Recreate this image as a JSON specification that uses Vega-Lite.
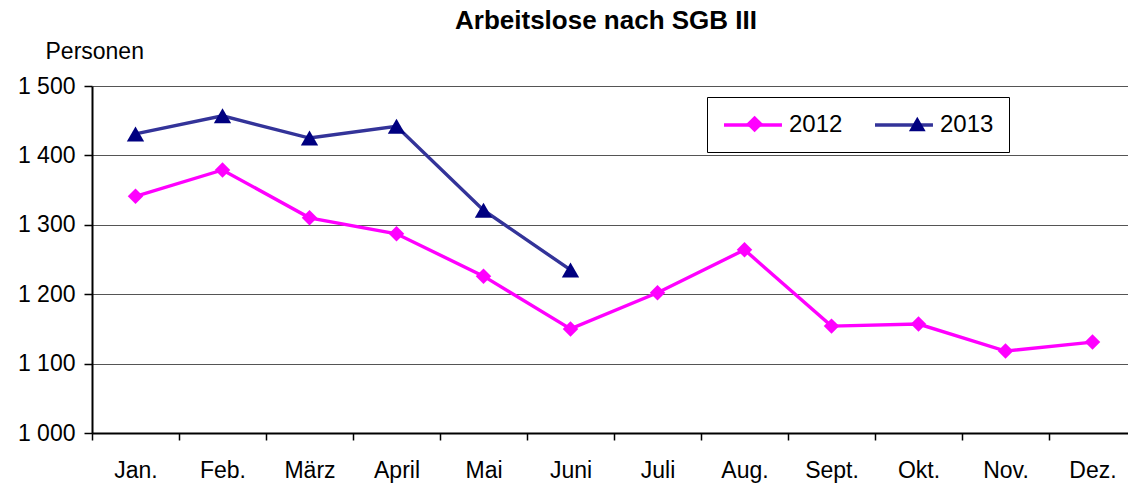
{
  "$schema": "https://vega.github.io/schema/vega-lite/v6.json",
  "width": 1036,
  "height": 347,
  "autosize": {"type": "none"},
  "padding": {"left": 92, "top": 86, "right": 0, "bottom": 50},
  "background": "white",
  "title": {
    "text": "Arbeitslose nach SGB III",
    "font": "Liberation Sans",
    "fontSize": 26,
    "fontWeight": "bold",
    "color": "black",
    "anchor": "middle",
    "offset": 6,
    "dx": -4
  },
  "config": {
    "view": {"stroke": null},
    "font": "Liberation Sans",
    "axis": {"labelFont": "Liberation Sans", "titleFont": "Liberation Sans", "labelColor": "black", "titleColor": "black"}
  },
  "data": {
    "values": [
      {"monat": "Jan.", "jahr": "2012", "wert": 1341},
      {"monat": "Feb.", "jahr": "2012", "wert": 1379},
      {"monat": "März", "jahr": "2012", "wert": 1310},
      {"monat": "April", "jahr": "2012", "wert": 1287},
      {"monat": "Mai", "jahr": "2012", "wert": 1226},
      {"monat": "Juni", "jahr": "2012", "wert": 1150},
      {"monat": "Juli", "jahr": "2012", "wert": 1202},
      {"monat": "Aug.", "jahr": "2012", "wert": 1264},
      {"monat": "Sept.", "jahr": "2012", "wert": 1154},
      {"monat": "Okt.", "jahr": "2012", "wert": 1157},
      {"monat": "Nov.", "jahr": "2012", "wert": 1118},
      {"monat": "Dez.", "jahr": "2012", "wert": 1131},
      {"monat": "Jan.", "jahr": "2013", "wert": 1431},
      {"monat": "Feb.", "jahr": "2013", "wert": 1457},
      {"monat": "März", "jahr": "2013", "wert": 1425},
      {"monat": "April", "jahr": "2013", "wert": 1442},
      {"monat": "Mai", "jahr": "2013", "wert": 1321},
      {"monat": "Juni", "jahr": "2013", "wert": 1235}
    ]
  },
  "encoding": {
    "x": {
      "field": "monat",
      "type": "ordinal",
      "sort": ["Jan.", "Feb.", "März", "April", "Mai", "Juni", "Juli", "Aug.", "Sept.", "Okt.", "Nov.", "Dez."],
      "scale": {"type": "band", "paddingInner": 0, "paddingOuter": 0, "range": [0, 1044]},
      "axis": {
        "title": null,
        "labelAngle": 0,
        "labelFontSize": 23,
        "labelPadding": 19,
        "tickBand": "extent",
        "tickSize": 7,
        "tickColor": "black",
        "tickWidth": 1.5,
        "domainColor": "black",
        "domainWidth": 2,
        "grid": false
      }
    },
    "y": {
      "field": "wert",
      "type": "quantitative",
      "scale": {"domain": [1000, 1500], "zero": false, "nice": false},
      "axis": {
        "title": "Personen",
        "titleAngle": 0,
        "titleAlign": "left",
        "titleBaseline": "alphabetic",
        "titleX": -47,
        "titleY": -28,
        "titleFontSize": 23,
        "titleFontWeight": "normal",
        "values": [1000, 1100, 1200, 1300, 1400, 1500],
        "labelExpr": "replace(format(datum.value, ','), ',', ' ')",
        "labelFontSize": 23,
        "labelPadding": 9,
        "tickSize": 8,
        "tickColor": "black",
        "tickWidth": 1.5,
        "domainColor": "black",
        "domainWidth": 2,
        "grid": true,
        "gridColor": "#555555",
        "gridWidth": 1
      }
    }
  },
  "layer": [
    {
      "mark": {"type": "line", "strokeWidth": 3.4},
      "encoding": {
        "stroke": {
          "field": "jahr",
          "type": "nominal",
          "scale": {"range": ["#FF00FF", "#333399"]},
          "legend": {
            "title": null,
            "orient": "none",
            "legendX": 615,
            "legendY": 11,
            "direction": "horizontal",
            "padding": 15,
            "strokeColor": "black",
            "labelFontSize": 24,
            "labelFont": "Liberation Sans",
            "labelColor": "black",
            "labelOffset": 41,
            "columnPadding": 25,
            "symbolSize": 484,
            "symbolType": "M-1,0H4.27",
            "symbolStrokeWidth": 3.4
          }
        },
        "detail": {"field": "jahr"}
      }
    },
    {
      "transform": [{"filter": "datum.jahr === '2012'"}],
      "mark": {"type": "point", "filled": true, "opacity": 1, "size": 240},
      "encoding": {
        "fill": {"field": "jahr", "type": "nominal", "scale": {"domain": ["2012", "2013"], "range": ["#FF00FF", "#000080"]}},
        "shape": {"field": "jahr", "type": "nominal", "scale": {"domain": ["2012", "2013"], "range": ["diamond", "triangle-up"]}}
      }
    },
    {
      "transform": [{"filter": "datum.jahr === '2013'"}],
      "mark": {"type": "point", "filled": true, "opacity": 1, "size": 300},
      "encoding": {
        "fill": {
          "field": "jahr",
          "type": "nominal",
          "scale": {"domain": ["2012", "2013"], "range": ["#FF00FF", "#000080"]},
          "legend": {
            "title": null,
            "orient": "none",
            "legendX": 615,
            "legendY": 11,
            "direction": "horizontal",
            "padding": 15,
            "labelFontSize": 24,
            "labelFont": "Liberation Sans",
            "labelExpr": "''",
            "labelOffset": 0,
            "columnPadding": 117.7,
            "symbolSize": 280,
            "symbolOffset": 20.6,
            "symbolStrokeWidth": 0,
            "symbolOpacity": 1
          }
        },
        "shape": {"field": "jahr", "type": "nominal", "scale": {"domain": ["2012", "2013"], "range": ["diamond", "triangle-up"]}}
      }
    }
  ]
}
